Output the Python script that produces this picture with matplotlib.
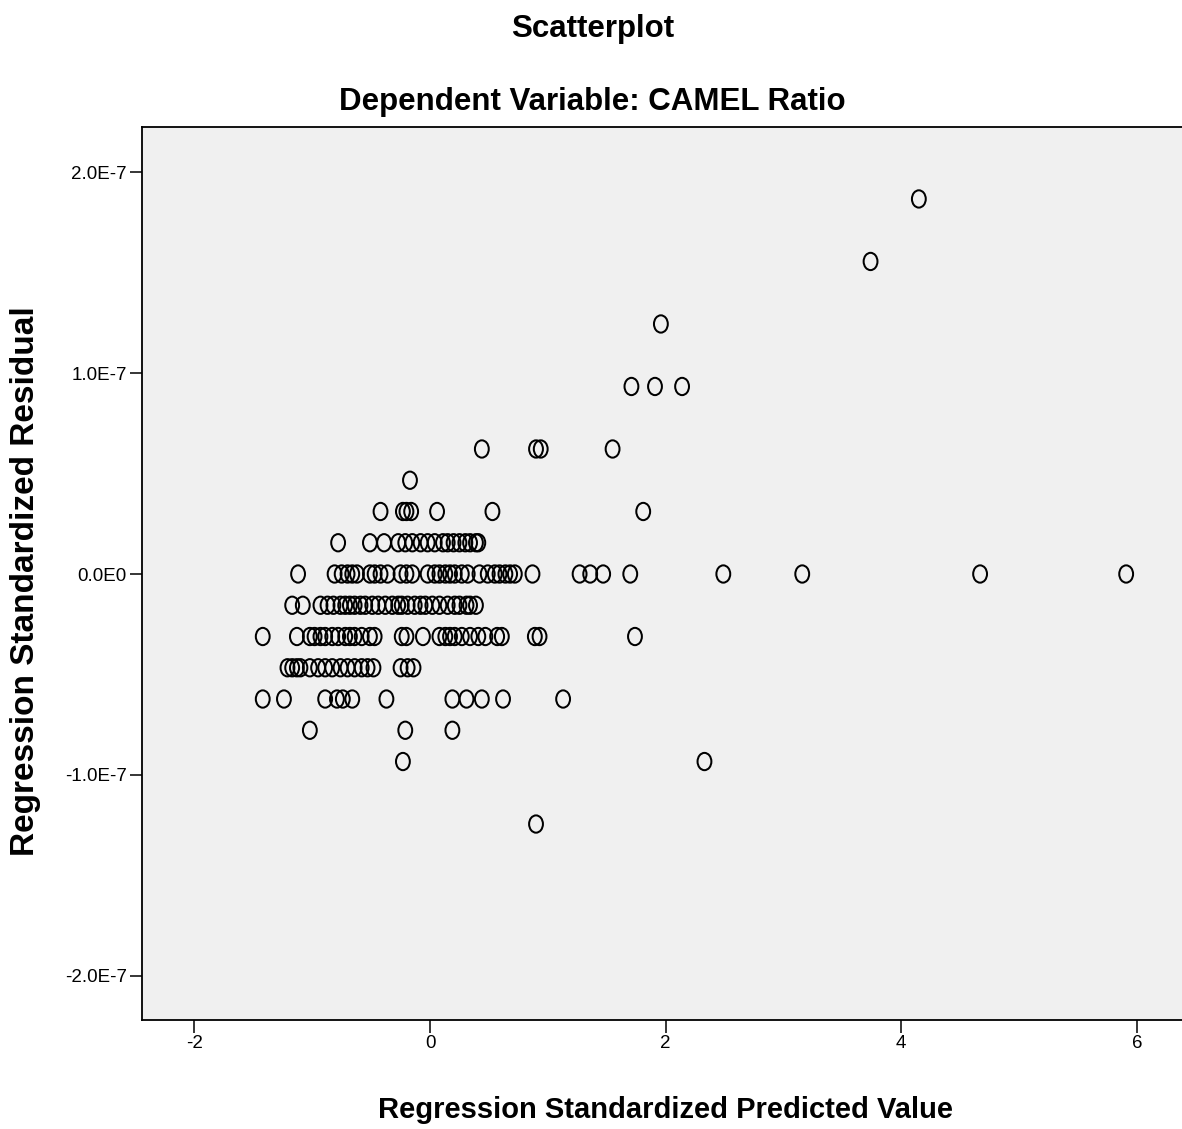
import matplotlib
matplotlib.use("Agg")
import matplotlib.pyplot as plt
import matplotlib.transforms as mtransforms
from matplotlib.path import Path
from matplotlib.ticker import FixedLocator, FixedFormatter

# Residual levels (one per row of points) and predicted values on each row
step = 1.555e-8
row_levels = [12, 10, 8, 6, 4, 3, 2, 1, 0, -1, -2, -3, -4, -5, -6, -8]
row_pred = [
    [4.15],
    [3.74],
    [1.96],
    [1.71, 1.91, 2.14],
    [0.44, 0.90, 0.94, 1.55],
    [-0.17],
    [-0.42, -0.23, -0.20, -0.16, 0.06, 0.53, 1.81],
    [-0.78, -0.51, -0.39, -0.27, -0.21, -0.15, -0.08, -0.02, 0.04, 0.11, 0.15,
     0.20, 0.25, 0.30, 0.34, 0.39, 0.41],
    [-1.12, -0.81, -0.75, -0.70, -0.66, -0.62, -0.51, -0.47, -0.42, -0.36, -0.25,
     -0.20, -0.15, -0.02, 0.04, 0.08, 0.13, 0.17, 0.21, 0.27, 0.32, 0.42, 0.49,
     0.55, 0.59, 0.64, 0.68, 0.72, 0.87, 1.27, 1.36, 1.47, 1.70, 2.49, 3.16,
     4.67, 5.91],
    [-1.17, -1.08, -0.93, -0.87, -0.82, -0.76, -0.72, -0.68, -0.64, -0.59, -0.55,
     -0.49, -0.44, -0.38, -0.32, -0.27, -0.24, -0.19, -0.13, -0.08, -0.04, 0.02,
     0.08, 0.15, 0.21, 0.25, 0.31, 0.34, 0.39],
    [-1.42, -1.13, -1.02, -0.98, -0.93, -0.89, -0.83, -0.78, -0.72, -0.68, -0.64,
     -0.58, -0.51, -0.47, -0.24, -0.20, -0.06, 0.08, 0.13, 0.17, 0.21, 0.27,
     0.34, 0.41, 0.47, 0.57, 0.61, 0.89, 0.93, 1.74],
    [-1.21, -1.17, -1.13, -1.10, -1.02, -0.95, -0.89, -0.83, -0.76, -0.70, -0.64,
     -0.58, -0.53, -0.48, -0.25, -0.19, -0.14],
    [-1.42, -1.24, -0.89, -0.79, -0.74, -0.66, -0.37, 0.19, 0.31, 0.44, 0.62, 1.13],
    [-1.02, -0.21, 0.19],
    [-0.23, 2.33],
    [0.90],
]

x_ticks = [-2, 0, 2, 4, 6]
y_ticks = [-2.0e-7, -1.0e-7, 0.0, 1.0e-7, 2.0e-7]
y_tick_labels = ["-2.0E-7", "-1.0E-7", "0.0E0", "1.0E-7", "2.0E-7"]

pred = []
resid = []
for lvl, xs in zip(row_levels, row_pred):
    for x in xs:
        pred.append(x)
        resid.append(lvl * step)

font = ["Liberation Sans", "DejaVu Sans"]

# slightly tall open-circle marker, as in the SPSS export
ellipse = Path.unit_circle().transformed(mtransforms.Affine2D().scale(0.8, 1.0))

W, H = 1182, 1129
fig = plt.figure(figsize=(W / 100, H / 100), dpi=100)
ax = fig.add_axes([142 / W, 1 - 1020 / H, (W - 142) / W, (1020 - 127) / H])
ax.set_facecolor("#F0F0F0")
ax.scatter(pred, resid, s=155, marker=ellipse, facecolors="none",
           edgecolors="#000000", linewidths=1.45, zorder=3)

ax.set_xlim(-2.445, 6.384)
ax.set_ylim(-2.219e-7, 2.224e-7)
ax.xaxis.set_major_locator(FixedLocator(x_ticks))
ax.set_xticklabels([str(t) for t in x_ticks])
ax.yaxis.set_major_locator(FixedLocator(y_ticks))
ax.yaxis.set_major_formatter(FixedFormatter(y_tick_labels))
ax.tick_params(axis="both", direction="out", length=9, width=1.1,
               colors="black", labelsize=13.5, pad=2)
for lab in ax.get_xticklabels() + ax.get_yticklabels():
    lab.set_family(font)
for side in ["left", "bottom", "top"]:
    ax.spines[side].set_color("black")
    ax.spines[side].set_linewidth(1.3)
ax.spines["right"].set_visible(False)

ax.set_xlabel("Regression Standardized Predicted Value", fontsize=21,
              fontweight="bold", family=font)
ax.xaxis.label.set_va("center")
ax.xaxis.set_label_coords(0.5 + (665 - (142 + W) / 2) / (W - 142),
                          -(1110 - 1020) / (1020 - 127))
ax.set_ylabel("Regression Standardized Residual", fontsize=24,
              fontweight="bold", family=font)
ax.yaxis.label.set_va("center")
ax.yaxis.set_label_coords(-(142 - 26) / (W - 142), (1020 - 581) / (1020 - 127))

fig.text(593 / W, 1 - 37 / H, "Scatterplot", ha="center", va="baseline",
         fontsize=22.5, fontweight="bold", family=font)
fig.text(592 / W, 1 - 110 / H, "Dependent Variable: CAMEL Ratio", ha="center",
         va="baseline", fontsize=22.5, fontweight="bold", family=font)

fig.savefig("out.png", dpi=100, facecolor="white")
